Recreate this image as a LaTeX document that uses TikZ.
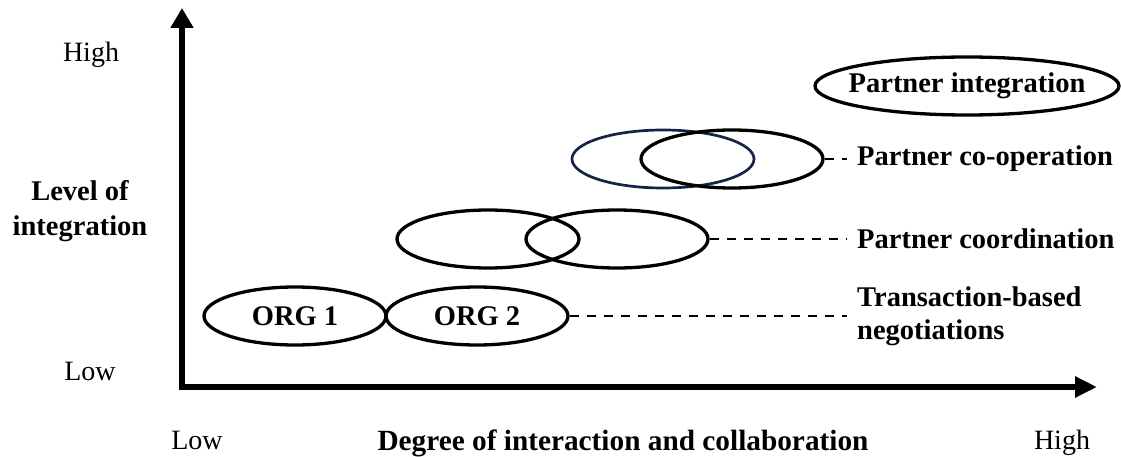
\documentclass[tikz,border=0pt]{standalone}
\usepackage{fontspec}
\setmainfont{Liberation Serif}
\usetikzlibrary{arrows.meta,shapes.geometric}
\definecolor{navyedge}{RGB}{20,35,70}
\begin{document}
\begin{tikzpicture}[x=1pt,y=-1pt,
  oval/.style={ellipse, draw, line width=3.3pt, minimum width=182pt,
    minimum height=58pt, inner sep=0pt,
    font=\fontsize{28.5}{34}\selectfont\bfseries},
  tag/.style={anchor=west, inner sep=0pt, align=left,
    font=\fontsize{28.5}{33}\selectfont\bfseries},
  leader/.style={line width=2pt, dash pattern=on 9pt off 8pt},
  axislabel/.style={inner sep=0pt, font=\fontsize{28}{34}\selectfont},
  axistitle/.style={inner sep=0pt, align=center,
    font=\fontsize{28.5}{35}\selectfont\bfseries},
  axis/.style={line width=6pt, line join=miter}]
\useasboundingbox (0,0) rectangle (1121,457);

% axes
\coordinate (ytip) at (182,8);
\coordinate (origin) at (182,387);
\coordinate (xtip) at (1097,387);
\draw[axis, {Triangle[length=20pt,width=22pt]}-{Triangle[length=22pt,width=20pt]}]
  (ytip) -- (origin) -- (xtip);

% axis labels
\node[axislabel, anchor=base] (yhigh) at (91,62) {High};
\node[axislabel, anchor=base] (ylow) at (90,380) {Low};
\node[axislabel, anchor=base] (xlow) at (197,449) {Low};
\node[axislabel, anchor=base] (xhigh) at (1062,449) {High};
\node[axistitle, anchor=base, font=\fontsize{29.3}{35}\selectfont\bfseries]
  (xtitle) at (623,450) {Degree of interaction and collaboration};
\node[axistitle] (ytitle) at (80,211) {Level of\\integration};

% stages
\node[oval] (org1) at (295,316) {ORG 1};
\node[oval] (org2) at (477,316) {ORG 2};
\node[oval] (coordA) at (488,239) {};
\node[oval] (coordB) at (617,239) {};
\node[oval, draw=navyedge, line width=2.7pt] (coopA) at (663,159) {};
\node[oval] (coopB) at (732,159) {};
\node[oval, minimum width=304pt, inner xsep=-15pt] (integ) at (967,86) {Partner integration};

% stage names
\node[tag] (t-trans) at (857,316) {Transaction-based\\negotiations};
\node[tag] (t-coord) at (857,239) {Partner coordination};
\node[tag] (t-coop) at (857,159) {Partner co-operation};

% leaders
\draw[leader] (org2.east) -- ([xshift=-10pt]t-trans.west);
\draw[leader] (coordB.east) -- ([xshift=-10pt]t-coord.west);
\draw[leader] (coopB.east) -- ([xshift=-10pt]t-coop.west);
\end{tikzpicture}
\end{document}
